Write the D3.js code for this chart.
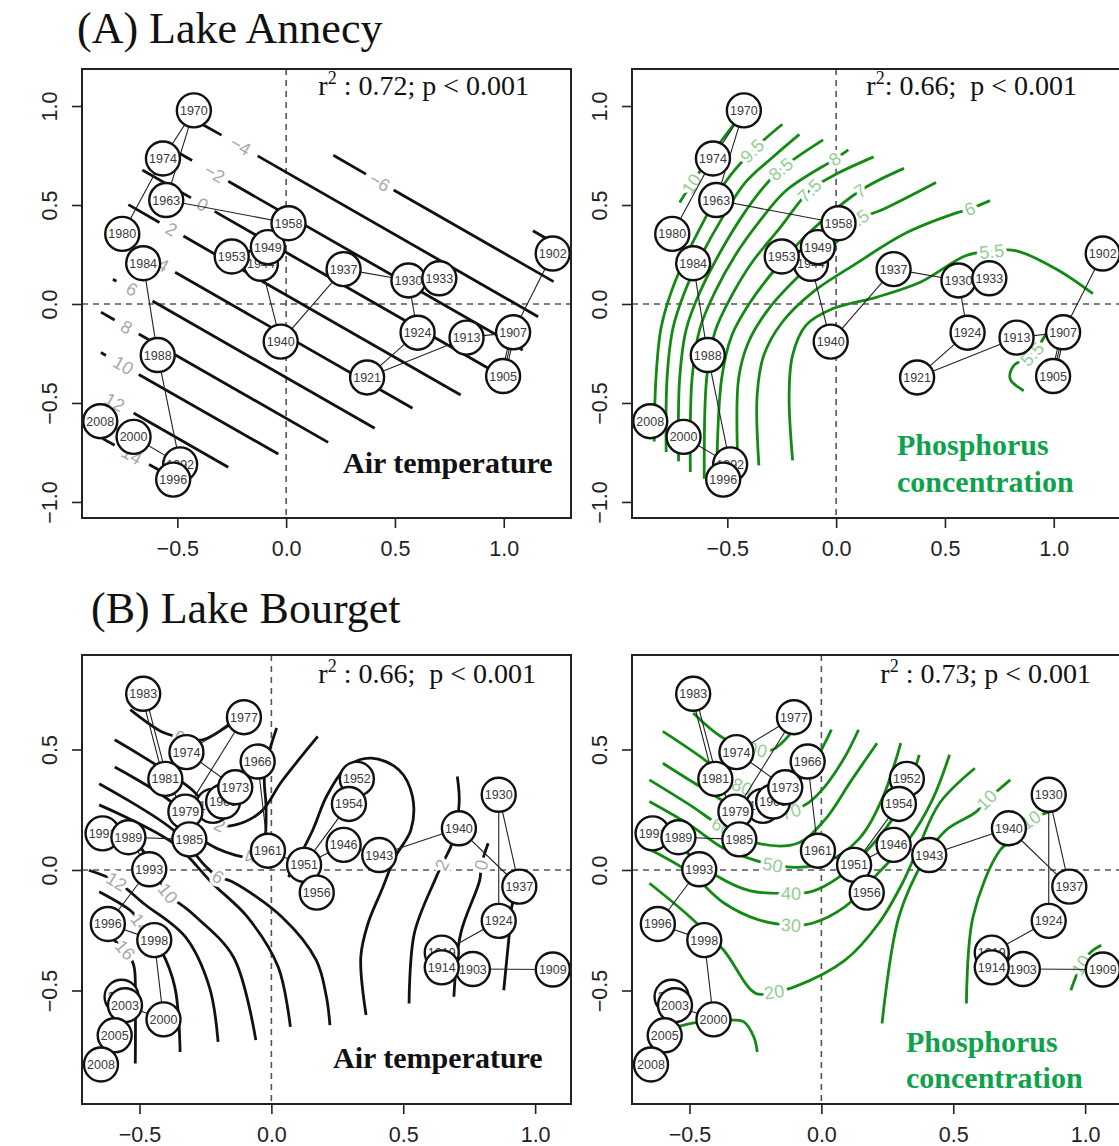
<!DOCTYPE html>
<html>
<head>
<meta charset="utf-8">
<script src="https://cdn.jsdelivr.net/npm/d3@7"></script>
<style>
  body { margin: 0; background: #fff; }
  svg { display: block; }
</style>
</head>
<body>
<svg id="fig" width="1119" height="1146"></svg>
<script>

// ---- Lake Annecy : years and ordination scores ----
var annecyYears = [1902, 1905, 1907, 1913, 1921, 1924, 1930, 1933, 1937, 1940, 1944, 1949,
                   1953, 1958, 1963, 1970, 1974, 1980, 1984, 1988, 1992, 1996, 2000, 2008];
var annecyX = [1.225, 0.997, 1.043, 0.829, 0.372, 0.604, 0.562, 0.704, 0.264, -0.025, -0.116, -0.084,
               -0.250, 0.011, -0.551, -0.424, -0.566, -0.753, -0.657, -0.590, -0.487, -0.519, -0.701, -0.854];
var annecyY = [0.255, -0.364, -0.143, -0.170, -0.371, -0.145, 0.119, 0.130, 0.176, -0.190, 0.203, 0.287,
               0.240, 0.408, 0.525, 0.978, 0.735, 0.354, 0.206, -0.258, -0.810, -0.887, -0.671, -0.592];
var annecyLinks = [[1970, 1974], [1970, 1963], [1974, 1980], [1980, 1984], [1963, 1958], [1958, 1949],
                   [1949, 1944], [1953, 1944], [1944, 1940], [1940, 1937], [1937, 1930], [1930, 1933],
                   [1930, 1924], [1924, 1921], [1921, 1913], [1913, 1907], [1907, 1905], [1907, 1902],
                   [1984, 1988], [1988, 1992], [1992, 1996], [2000, 1992], [2008, 2000]];
var annecyDouble = [[1907, 1905]];

// ---- Lake Bourget ----
var bourgetYears = [1903, 1909, 1919, 1914, 1924, 1930, 1937, 1940, 1943, 1946, 1951, 1952, 1954, 1956,
                    1961, 1966, 1972, 1969, 1973, 1974, 1977, 1979, 1981, 1983, 1985, 1991, 1989, 1993,
                    1996, 1998, 2000, 2001, 2003, 2005, 2008];
var bourgetX = [0.764, 1.067, 0.646, 0.646, 0.862, 0.862, 0.940, 0.711, 0.409, 0.274, 0.124, 0.324, 0.294, 0.172,
                -0.013, -0.052, -0.222, -0.183, -0.137, -0.322, -0.104, -0.326, -0.402, -0.486, -0.311, -0.640, -0.542, -0.463,
                -0.620, -0.444, -0.409, -0.568, -0.555, -0.594, -0.646];
var bourgetY = [-0.411, -0.413, -0.343, -0.404, -0.211, 0.312, -0.069, 0.173, 0.062, 0.104, 0.021, 0.378, 0.274, -0.094,
                0.080, 0.450, 0.266, 0.284, 0.343, 0.489, 0.634, 0.242, 0.378, 0.731, 0.127, 0.152, 0.136, 0.003,
                -0.224, -0.291, -0.620, -0.526, -0.561, -0.686, -0.807];
var bourgetLinks = [[1977, 1974], [1977, 1979], [1974, 1973], [1981, 1979], [1979, 1985],
                    [1973, 1969], [1966, 1961], [1985, 1989], [1989, 1991], [1989, 1993], [1993, 1996],
                    [1996, 1998], [1998, 2000], [2000, 2003], [2003, 2001], [2003, 2005], [2005, 2008],
                    [1961, 1951], [1951, 1946], [1951, 1956], [1951, 1954], [1954, 1952], [1946, 1943],
                    [1943, 1940], [1940, 1937], [1930, 1937], [1930, 1924], [1924, 1919], [1919, 1914],
                    [1914, 1903], [1903, 1909]];
var bourgetDouble = [[1983, 1981]];

// ---- fitted surfaces (contour lines; null = gap) ----
var annecyTemp = [
  {lev: "", pts: [[1.134, 0.37], [1.198, 0.33]], lab: -1},
  {lev: "\u22126", pts: [[0.217, 0.751], [0.367, 0.656], null, [0.430, 0.616], null, [0.494, 0.576], [1.229, 0.113]], lab: 3},
  {lev: "\u22124", pts: [[-0.384, 0.907], [-0.297, 0.853], null, [-0.210, 0.798], null, [-0.131, 0.748], [1.158, -0.064]], lab: 3},
  {lev: "\u22122", pts: [[-0.582, 0.819], [-0.432, 0.725], null, [-0.329, 0.660], null, [-0.266, 0.620], [1.087, -0.232]], lab: 3},
  {lev: "0", pts: [[-0.661, 0.677], [-0.437, 0.536], null, [-0.384, 0.502], null, [-0.329, 0.468], [0.929, -0.325]], lab: 3},
  {lev: "2", pts: [[-0.725, 0.502], [-0.582, 0.412], null, [-0.527, 0.377], null, [-0.472, 0.343], [0.802, -0.460]], lab: 3},
  {lev: "4", pts: [[-0.566, 0.196], null, [-0.510, 0.160], [0.581, -0.527]], lab: 0},
  {lev: "6", pts: [[-0.796, 0.125], [-0.780, 0.115], null, [-0.709, 0.075], null, [-0.614, 0.015], [0.407, -0.628]], lab: 3},
  {lev: "8", pts: [[-0.851, -0.041], [-0.788, -0.081], null, [-0.733, -0.117], null, [-0.677, -0.152], [0.193, -0.699]], lab: 3},
  {lev: "10", pts: [[-0.851, -0.245], [-0.828, -0.260], null, [-0.748, -0.310], null, [-0.677, -0.356], [-0.036, -0.758]], lab: 3},
  {lev: "12", pts: [[-0.788, -0.496], null, [-0.701, -0.551], [-0.266, -0.825]], lab: 0},
  {lev: "14", pts: [[-0.843, -0.680], [-0.788, -0.714], null, [-0.709, -0.764], null, [-0.630, -0.811], [-0.582, -0.840]], lab: 3}
];

var annecyPhos = [
  {lev: "10", pts: [[-0.719, 0.513], [-0.665, 0.606], [-0.588, 0.732], [-0.464, 0.916]], lab: 1},
  {lev: "9.5", pts: [[-0.836, -0.695], [-0.828, -0.376], [-0.805, -0.124], [-0.758, 0.060], [-0.688, 0.245], [-0.603, 0.430], [-0.510, 0.614], [-0.386, 0.773], [-0.247, 0.908]], lab: 7},
  {lev: "9", pts: [[-0.781, -0.748], [-0.777, -0.376], [-0.750, -0.124], [-0.696, 0.060], [-0.619, 0.245], [-0.526, 0.430], [-0.417, 0.614], [-0.293, 0.740], [-0.169, 0.857]], lab: -1},
  {lev: "8.5", pts: [[-0.724, -0.795], [-0.719, -0.376], [-0.688, -0.124], [-0.626, 0.060], [-0.541, 0.245], [-0.440, 0.430], [-0.340, 0.581], [-0.254, 0.681], [-0.060, 0.829]], lab: 7},
  {lev: "8", pts: [[-0.670, -0.849], [-0.662, -0.376], [-0.626, -0.124], [-0.557, 0.060], [-0.464, 0.245], [-0.355, 0.413], [-0.231, 0.572], [-0.006, 0.732], [0.056, 0.779]], lab: 7},
  {lev: "7.5", pts: [[-0.606, -0.883], [-0.595, -0.376], [-0.557, -0.141], [-0.479, 0.044], [-0.386, 0.211], [-0.262, 0.379], [-0.122, 0.572], [-0.014, 0.648], [0.172, 0.743]], lab: 6},
  {lev: "7", pts: [[-0.549, -0.862], [-0.526, -0.376], [-0.479, -0.158], [-0.394, 0.010], [-0.278, 0.178], [-0.122, 0.362], [0.110, 0.572], [0.312, 0.685]], lab: 6},
  {lev: "6.5", pts: [[-0.451, -0.824], [-0.448, -0.376], [-0.402, -0.191], [-0.309, -0.023], [-0.169, 0.144], [-0.014, 0.295], [0.095, 0.421], [0.219, 0.480], [0.459, 0.614]], lab: 6},
  {lev: "6", pts: [[-0.355, -0.815], [-0.363, -0.460], [-0.332, -0.258], [-0.247, -0.091], [-0.107, 0.060], [0.079, 0.195], [0.327, 0.362], [0.560, 0.463], [0.614, 0.480], [0.707, 0.522]], lab: 8},
  {lev: "5.5", pts: [[-0.200, -0.790], [-0.216, -0.460], [-0.200, -0.258], [-0.138, -0.107], [-0.014, -0.023], [0.188, 0.035], [0.389, 0.111], [0.598, 0.245], [0.715, 0.265], [0.823, 0.270], [1.009, 0.178], [1.180, 0.052]], lab: 8},
  {lev: "5.5", pts: [[0.980, -0.120], [0.901, -0.253], [0.816, -0.312], [0.800, -0.379], [0.862, -0.438]], lab: 1}
];

var bourgetTemp = [
  {lev: "0", pts: [[-0.535, 0.665], [-0.418, 0.575], [-0.346, 0.551], [-0.261, 0.540], [-0.163, 0.602]], lab: 2},
  {lev: "2", pts: [[-0.594, 0.540], [-0.300, 0.332], [-0.228, 0.235], [-0.196, 0.187], [-0.137, 0.187], [-0.039, 0.242], [0.039, 0.367], [0.176, 0.554]], lab: 3},
  {lev: "4", pts: [[-0.594, 0.427], [-0.366, 0.270], [-0.261, 0.125], [-0.137, 0.062], [-0.085, 0.055], [-0.033, 0.097], [-0.020, 0.249], [-0.026, 0.402], [0.020, 0.589]], lab: 4},
  {lev: "6", pts: [[-0.653, 0.358], [-0.372, 0.166], [-0.248, 0.014], [-0.202, -0.028], [-0.150, -0.048], [0.039, -0.194], [0.170, -0.374], [0.209, -0.528], [0.222, -0.644]], lab: 3},
  {lev: "8", pts: [[-0.653, 0.270], [-0.372, 0.111], [-0.222, -0.057], [-0.091, -0.195], [0.026, -0.403], [0.072, -0.651]], lab: -1},
  {lev: "10", pts: [[-0.653, 0.208], [-0.509, 0.111], [-0.392, -0.097], [-0.300, -0.181], [-0.144, -0.361], [-0.059, -0.706]], lab: 2},
  {lev: "12", pts: [[-0.692, -0.001], [-0.587, -0.048], [-0.483, -0.140], [-0.326, -0.278], [-0.235, -0.486], [-0.202, -0.713]], lab: 1},
  {lev: "14", pts: [[-0.653, -0.090], [-0.529, -0.173], [-0.496, -0.222], [-0.418, -0.334], [-0.366, -0.486], [-0.346, -0.755]], lab: 2},
  {lev: "16", pts: [[-0.614, -0.278], [-0.555, -0.332], [-0.522, -0.395], [-0.516, -0.555], [-0.516, -0.803]], lab: 1},
  {lev: "", pts: [[0.065, -0.029], [0.157, 0.166], [0.209, 0.305], [0.287, 0.429], [0.379, 0.464], [0.483, 0.416], [0.535, 0.305], [0.529, 0.166], [0.470, 0.055], [0.418, -0.084], [0.366, -0.223], [0.339, -0.361], [0.359, -0.602]], lab: -1},
  {lev: "2", pts: [[0.705, 0.388], [0.712, 0.277], [0.685, 0.111], [0.646, 0.021], [0.620, -0.042], [0.542, -0.263], [0.522, -0.554]], lab: 3},
  {lev: "0", pts: [[0.822, 0.111], [0.796, 0.021], [0.790, -0.042], [0.718, -0.263], [0.692, -0.526]], lab: 1},
  {lev: "", pts: [[0.966, -0.001], [0.914, -0.140], [0.901, -0.277], [0.881, -0.499]], lab: -1}
];

var bourgetPhos = [
  {lev: "90", pts: [[-0.486, 0.651], [-0.371, 0.547], [-0.243, 0.499], [-0.185, 0.499], [-0.115, 0.568]], lab: 2},
  {lev: "80", pts: [[-0.601, 0.575], [-0.460, 0.471], [-0.345, 0.374], [-0.301, 0.346], [-0.217, 0.319], [-0.115, 0.346], [-0.038, 0.429], [0.013, 0.526], [0.038, 0.582]], lab: 3},
  {lev: "70", pts: [[-0.601, 0.443], [-0.460, 0.346], [-0.332, 0.263], [-0.217, 0.222], [-0.115, 0.242], [-0.051, 0.277], [0.013, 0.346], [0.090, 0.471], [0.141, 0.582]], lab: 4},
  {lev: "60", pts: [[-0.652, 0.374], [-0.499, 0.270], [-0.377, 0.180], [-0.243, 0.111], [-0.090, 0.111], [0.013, 0.208], [0.115, 0.374], [0.211, 0.526]], lab: 2},
  {lev: "50", pts: [[-0.652, 0.284], [-0.499, 0.187], [-0.371, 0.090], [-0.256, 0.042], [-0.185, 0.021], [-0.090, 0.011], [0.013, 0.030], [0.141, 0.127], [0.230, 0.294], [0.301, 0.526]], lab: 4},
  {lev: "40", pts: [[-0.652, 0.155], [-0.512, 0.072], [-0.396, -0.025], [-0.269, -0.087], [-0.115, -0.097], [-0.038, -0.090], [0.064, -0.032], [0.166, 0.072], [0.269, 0.211], [0.332, 0.349], [0.371, 0.478]], lab: 4},
  {lev: "30", pts: [[-0.652, 0.086], [-0.499, -0.011], [-0.371, -0.136], [-0.243, -0.205], [-0.115, -0.229], [-0.038, -0.222], [0.090, -0.152], [0.217, -0.011], [0.332, 0.127], [0.422, 0.294], [0.486, 0.478]], lab: 4},
  {lev: "20", pts: [[-0.652, -0.055], [-0.499, -0.194], [-0.371, -0.332], [-0.249, -0.512], [-0.179, -0.506], [-0.102, -0.485], [0.090, -0.374], [0.217, -0.222], [0.307, -0.055], [0.364, 0.083], [0.448, 0.277], [0.582, 0.422]], lab: 4},
  {lev: "10", pts: [[0.230, -0.637], [0.294, -0.194], [0.396, 0.055], [0.473, 0.166], [0.588, 0.242], [0.627, 0.291], [0.671, 0.332], [0.716, 0.374]], lab: 5},
  {lev: "10", pts: [[0.550, -0.554], [0.575, -0.194], [0.678, 0.083], [0.742, 0.139], [0.793, 0.208], [0.895, 0.249]], lab: 4},
  {lev: "10", pts: [[1.061, -0.312], [1.023, -0.339], [0.985, -0.395], [0.965, -0.443], [0.946, -0.499]], lab: 2},
  {lev: "", pts: [[-0.537, -0.648], [-0.460, -0.630], [-0.332, -0.623], [-0.294, -0.630], [-0.256, -0.693], [-0.243, -0.755]], lab: -1}
];

var xTicks = [-0.5, 0, 0.5, 1];
var yTicksA = [-1, -0.5, 0, 0.5, 1];
var yTicksB = [-0.5, 0, 0.5];
var statTexts = [" : 0.72; p < 0.001", ": 0.66;  p < 0.001", " : 0.66;  p < 0.001", " : 0.73; p < 0.001"];
var titles = ["(A) Lake Annecy", "(B) Lake Bourget"];

// ---------------------------------------------------------------
var svg = d3.select("#fig");
var SERIF = "'Liberation Serif', 'Times New Roman', Times, serif";
var SANS = "'Liberation Sans', Arial, Helvetica, sans-serif";
var W = 489;
var GREEN = "#138a13";

svg.append("text").attr("x", 77).attr("y", 43)
  .style("font-family", SERIF).style("font-size", "44px").attr("fill", "#111").text(titles[0]);
svg.append("text").attr("x", 91).attr("y", 623)
  .style("font-family", SERIF).style("font-size", "44px").attr("fill", "#111").text(titles[1]);

function pick(years, xs, ys) {
	return years.map(function(d, i) { return {year: d, x: xs[i], y: ys[i]}; });
}

function labelAngle(pts, k, x, y) {
	var a = pts[k - 1], b = pts[k + 1];
	if (!a && !b) {
		for (var i = k - 1; i >= 0 && !a; i--) a = pts[i];
		for (var j = k + 1; j < pts.length && !b; j++) b = pts[j];
	}
	if (!a) a = pts[k];
	if (!b) b = pts[k];
	var ang = Math.atan2(y(b[1]) - y(a[1]), x(b[0]) - x(a[0])) * 180 / Math.PI;
	if (ang > 90) ang -= 180;
	if (ang < -90) ang += 180;
	return ang;
}

function drawPanel(cfg, idx) {
	var g = svg.append("g");
	var x = d3.scaleLinear().domain(cfg.xdom).range([cfg.left, cfg.left + W]);
	var y = d3.scaleLinear().domain(cfg.ydom).range([cfg.bottom, cfg.top]);

	var clipId = "clip" + idx;
	svg.append("clipPath").attr("id", clipId).append("rect")
		.attr("x", cfg.left).attr("y", cfg.top).attr("width", W).attr("height", cfg.bottom - cfg.top);
	var plot = g.append("g").attr("clip-path", "url(#" + clipId + ")");

	// zero lines
	plot.append("line").attr("x1", x(0)).attr("x2", x(0)).attr("y1", cfg.top).attr("y2", cfg.bottom)
		.attr("stroke", "#555").attr("stroke-width", 1.6).attr("stroke-dasharray", "6,5");
	plot.append("line").attr("x1", cfg.left).attr("x2", cfg.left + W).attr("y1", y(0)).attr("y2", y(0))
		.attr("stroke", "#555").attr("stroke-width", 1.6).attr("stroke-dasharray", "6,5");

	// contour lines
	var line = d3.line().defined(function(d) { return d != null; })
		.x(function(d) { return x(d[0]); }).y(function(d) { return y(d[1]); })
		.curve(cfg.smooth ? d3.curveCatmullRom.alpha(0.5) : d3.curveLinear);

	plot.selectAll(".contour").data(cfg.contours).enter().append("path")
		.attr("class", "contour")
		.attr("d", function(d) { return line(d.pts); })
		.attr("fill", "none").attr("stroke", cfg.lineColor).attr("stroke-width", 2.8)
		.attr("stroke-linecap", "butt");

	plot.selectAll(".clab").data(cfg.contours.filter(function(d) { return d.lab >= 0; }))
		.enter().append("text")
		.attr("class", "clab")
		.attr("transform", function(d) {
			var p = d.pts[d.lab];
			return "translate(" + x(p[0]) + "," + y(p[1]) + ") rotate(" + labelAngle(d.pts, d.lab, x, y) + ")";
		})
		.attr("text-anchor", "middle").attr("dy", "0.35em")
		.style("font-family", SANS).style("font-size", "18px")
		.attr("fill", cfg.labColor).attr("stroke", "#fff").attr("stroke-width", 7)
		.attr("stroke-linejoin", "round").style("paint-order", "stroke")
		.text(function(d) { return d.lev; });

	// links between successive samples
	var byYear = {};
	cfg.points.forEach(function(p) { byYear[p.year] = p; });
	plot.selectAll(".link").data(cfg.links).enter().append("line")
		.attr("x1", function(d) { return x(byYear[d[0]].x); })
		.attr("y1", function(d) { return y(byYear[d[0]].y); })
		.attr("x2", function(d) { return x(byYear[d[1]].x); })
		.attr("y2", function(d) { return y(byYear[d[1]].y); })
		.attr("stroke", "#222").attr("stroke-width", 1.1);

	// doubled links (two close parallel strokes)
	cfg.doubles.forEach(function(d) {
		var x1 = x(byYear[d[0]].x), y1 = y(byYear[d[0]].y), x2 = x(byYear[d[1]].x), y2 = y(byYear[d[1]].y);
		var len = Math.sqrt((x2 - x1) * (x2 - x1) + (y2 - y1) * (y2 - y1));
		var ox = -(y2 - y1) / len * 1.8, oy = (x2 - x1) / len * 1.8;
		[-1, 1].forEach(function(s) {
			plot.append("line").attr("x1", x1 + s * ox).attr("y1", y1 + s * oy)
				.attr("x2", x2 + s * ox).attr("y2", y2 + s * oy)
				.attr("stroke", "#222").attr("stroke-width", 1.1);
		});
	});

	// year circles
	var pt = plot.selectAll(".yr").data(cfg.points).enter().append("g")
		.attr("transform", function(d) { return "translate(" + x(d.x) + "," + y(d.y) + ")"; });
	pt.append("circle").attr("r", 17).attr("fill", "#fff").attr("stroke", "#111").attr("stroke-width", 2.4);
	pt.append("text").attr("text-anchor", "middle").attr("dy", "0.36em")
		.style("font-family", SANS).style("font-size", "12.5px").attr("fill", "#3a3a3a")
		.text(function(d) { return d.year; });

	// r2 annotation
	var st = g.append("text").attr("x", cfg.left + W - cfg.statRight).attr("y", cfg.top + cfg.statDown)
		.attr("text-anchor", "end").style("font-family", SERIF).style("font-size", "28px")
		.style("white-space", "pre").attr("fill", "#111");
	st.append("tspan").text("r");
	st.append("tspan").attr("dy", -11).style("font-size", "18px").text("2");
	st.append("tspan").attr("dy", 11).text(cfg.stat);

	// variable name
	cfg.varLines.forEach(function(t, i) {
		g.append("text").attr("x", cfg.left + cfg.varX).attr("y", cfg.bottom - cfg.varUp[i])
			.style("font-family", SERIF).style("font-size", "30px").style("font-weight", "bold")
			.attr("fill", cfg.varColor).text(t);
	});

	// frame
	g.append("rect").attr("x", cfg.left).attr("y", cfg.top).attr("width", W).attr("height", cfg.bottom - cfg.top)
		.attr("fill", "none").attr("stroke", "#222").attr("stroke-width", 2);

	// axes
	var fmt = d3.format(".1f");
	var xa = g.append("g").attr("transform", "translate(0," + cfg.bottom + ")")
		.call(d3.axisBottom(x).tickValues(xTicks).tickSize(10).tickPadding(13).tickFormat(fmt));
	var ya = g.append("g").attr("transform", "translate(" + cfg.left + ",0)")
		.call(d3.axisLeft(y).tickValues(cfg.yTicks).tickSize(10).tickFormat(fmt));
	[xa, ya].forEach(function(a) {
		a.select(".domain").remove();
		a.selectAll("line").attr("stroke", "#222").attr("stroke-width", 1.6);
		a.selectAll("text").style("font-family", SANS).style("font-size", "21.5px").attr("fill", "#222");
	});
	ya.selectAll("text").attr("x", 0).attr("dy", 0).attr("text-anchor", "middle")
		.attr("transform", "translate(-25,0) rotate(-90)");
}

var panels = [
	{left: 82, top: 69, bottom: 518, xdom: [-0.938, 1.309], ydom: [-1.081, 1.187], yTicks: yTicksA,
	 points: pick(annecyYears, annecyX, annecyY), links: annecyLinks, doubles: annecyDouble,
	 contours: annecyTemp, smooth: false,
	 lineColor: "#111", labColor: "#a8a8a8", stat: statTexts[0], statRight: 42, statDown: 26,
	 varLines: ["Air temperature"], varX: 261, varUp: [45], varColor: "#111"},
	{left: 632, top: 69, bottom: 518, xdom: [-0.938, 1.309], ydom: [-1.081, 1.187], yTicks: yTicksA,
	 points: pick(annecyYears, annecyX, annecyY), links: annecyLinks, doubles: annecyDouble,
	 contours: annecyPhos, smooth: true,
	 lineColor: GREEN, labColor: "#94cc94", stat: statTexts[1], statRight: 44, statDown: 26,
	 varLines: ["Phosphorus", "concentration"], varX: 265, varUp: [63, 26], varColor: "#0fa24c"},
	{left: 82, top: 655, bottom: 1104, xdom: [-0.718, 1.136], ydom: [-0.971, 0.892], yTicks: yTicksB,
	 points: pick(bourgetYears, bourgetX, bourgetY), links: bourgetLinks, doubles: bourgetDouble,
	 contours: bourgetTemp, smooth: true,
	 lineColor: "#111", labColor: "#a8a8a8", stat: statTexts[2], statRight: 35, statDown: 28,
	 varLines: ["Air temperature"], varX: 251, varUp: [36], varColor: "#111"},
	{left: 632, top: 655, bottom: 1104, xdom: [-0.718, 1.136], ydom: [-0.971, 0.892], yTicks: yTicksB,
	 points: pick(bourgetYears, bourgetX, bourgetY), links: bourgetLinks, doubles: bourgetDouble,
	 contours: bourgetPhos, smooth: true,
	 lineColor: GREEN, labColor: "#94cc94", stat: statTexts[3], statRight: 30, statDown: 28,
	 varLines: ["Phosphorus", "concentration"], varX: 274, varUp: [52, 16], varColor: "#0fa24c"}
];

panels.forEach(drawPanel);

</script>
</body>
</html>
